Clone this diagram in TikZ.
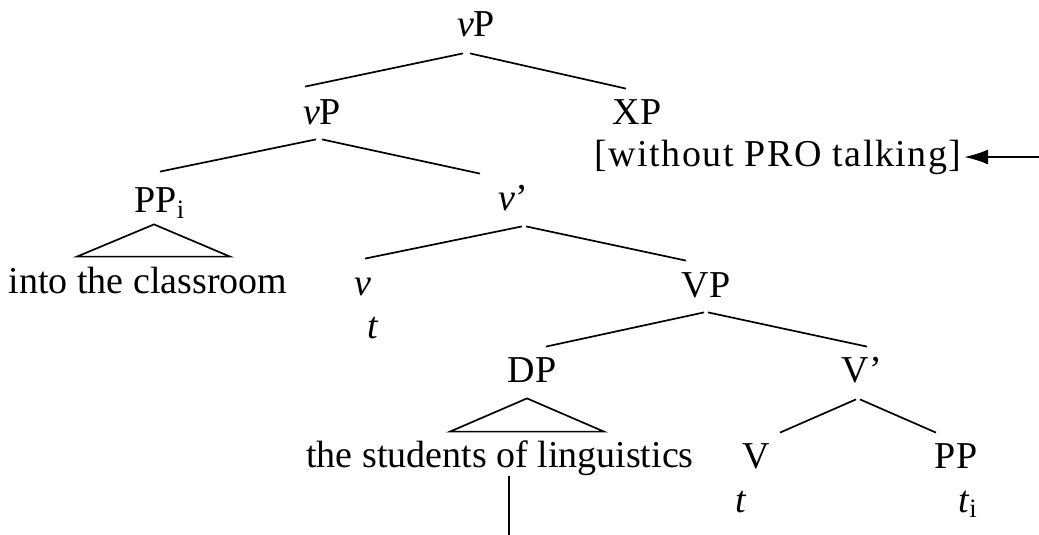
\documentclass[tikz,border=0pt]{standalone}
\usepackage{fontspec}
\setmainfont{Liberation Serif}
\usetikzlibrary{arrows.meta,calc}
\tikzset{cat/.style={font=\fontsize{19}{22}\selectfont,inner xsep=0pt,inner ysep=7pt,text height=12.5pt,text depth=0pt,anchor=base},branch/.style={line width=0.85pt},arrow/.style={-{Latex[length=12pt,width=7.5pt]},line width=1.1pt}}
\begin{document}
\begin{tikzpicture}[x=0.5pt,y=-0.5pt]
\useasboundingbox (0,0) rectangle (1039,535);
\node[cat] (vPtop) at (476,37) {\textit{v}P};
\node[cat] (XP) at (637,125) {XP};
\node[cat] (without) at (778,167) {\addfontfeature{LetterSpace=4}[without PRO talking]};
\node[cat] (vPlow) at (322,125) {\textit{v}P};
\node[cat] (PPi) at (160,213) {PP\textsubscript{i}};
\node[cat] (into) at (148,293) {into the classroom};
\node[cat] (vbar) at (513,210) {\textit{v}'};
\node[cat] (v) at (363,295) {\textit{v}};
\node[cat] (tv) at (373,338) {\textit{t}};
\node[cat] (VP) at (706,297) {VP};
\node[cat] (DP) at (532,382) {DP};
\node[cat] (students) at (500,467) {the students of linguistics};
\node[cat] (Vbar) at (862,382) {V'};
\node[cat] (V) at (756,468) {V};
\node[cat] (PP) at (956,468) {PP};
\node[cat] (tV) at (741,512) {\textit{t}};
\node[cat] (ti) at (968,512) {\textit{t}\textsubscript{i}};
\coordinate (arrowstart) at (1039,157);
\coordinate (lineend) at (509,535);
\draw[branch]($(vPtop.south)+(-13,2)$)--($(vPlow.north)+(-17,1)$);\draw[branch]($(vPtop.south)+(-6,2)$)--($(XP.north)+(-11,3)$);
\draw[branch]($(vPlow.south)+(-6,0)$)--($(PPi.north)+(0,-2)$);\draw[branch](vPlow.south)--($(vbar.north)+(-33,3)$);
\draw[branch]($(vbar.south)+(9,2)$)--($(v.north)+(2,3)$);\draw[branch]($(vbar.south)+(13,2)$)--($(VP.north)+(-20,3)$);
\draw[branch]($(VP.south)+(-2,1)$)--($(DP.north)+(14,4)$);\draw[branch]($(VP.south)+(2,1)$)--($(Vbar.north)+(5,4)$);
\draw[branch]($(Vbar.south)+(-6,3)$)--($(V.north)+(24,4)$);\draw[branch]($(Vbar.south)+(-2,3)$)--($(PP.north)+(-20,4)$);
\draw[branch]($(PPi.south)+(-6,-3)$)--($(into.north)+(-71,3)$)--($(into.north)+(82,3)$)--cycle;
\draw[branch]($(DP.south)+(-5,2)$)--($(students.north)+(-50,4)$)--($(students.north)+(104,4)$)--cycle;
\draw[line width=1.1pt]($(students.south)+(9,-5)$)--(lineend);
\draw[arrow](arrowstart)--($(without.base east)+(2,-10)$);
\end{tikzpicture}
\end{document}
